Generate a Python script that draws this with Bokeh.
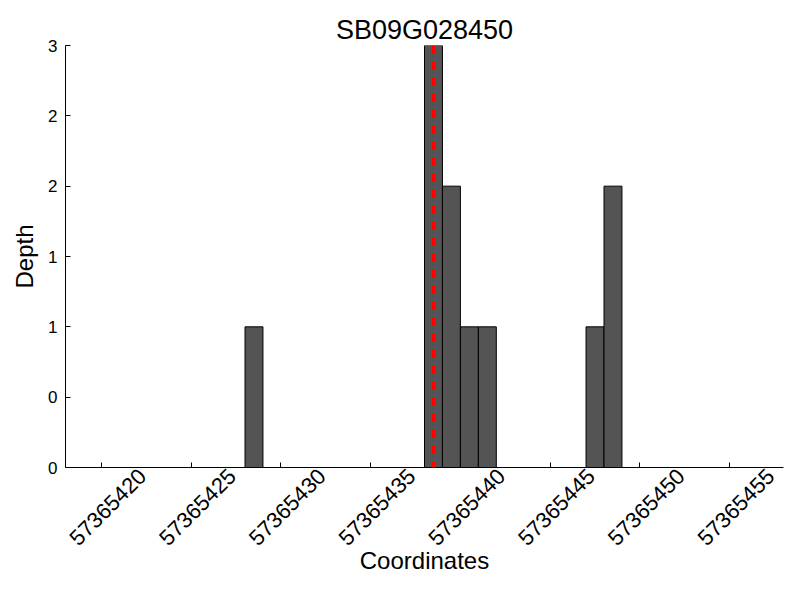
import math
from bokeh.plotting import figure
from bokeh.models import Range1d, FixedTicker, Span, ColumnDataSource
from bokeh.embed import file_html
from bokeh.resources import INLINE

title_text = "SB09G028450"
coords = [57365428, 57365438, 57365439, 57365440, 57365441, 57365447, 57365448]
depth = [1, 3, 2, 1, 1, 1, 2]
marker_pos = 57365438.5
x_ticks = [57365420, 57365425, 57365430, 57365435, 57365440, 57365445, 57365450, 57365455]
x_tick_labels = [str(t) for t in x_ticks]
y_ticks = [0, 0.5, 1, 1.5, 2, 2.5, 3]
y_tick_labels = ["0", "0", "1", "1", "2", "2", "3"]
x_min, x_max = 57365418, 57365458
y_min, y_max = 0, 3

FONT = "Liberation Sans"
W, H = 784, 584
BL, BR, BT, BB = 65, 1, 45, 117
FRAME_W = W - BL - BR
# Bokeh right-aligns rotated tick labels at the tick; shift them so they are centred.
LABEL_SHIFT_PX = 41
shift = LABEL_SHIFT_PX * (x_max - x_min) / FRAME_W
label_pos = [t + shift for t in x_ticks]

p = figure(width=W, height=H, output_backend="svg", toolbar_location=None,
           x_range=Range1d(x_min, x_max), y_range=Range1d(y_min, y_max),
           min_border_left=BL, min_border_right=BR, min_border_top=BT, min_border_bottom=BB)
p.title.text = title_text
p.title.text_font = FONT
p.title.text_font_size = "27px"
p.title.text_font_style = "normal"
p.title.text_color = "black"
p.title.align = "center"
p.title.standoff = 2
p.outline_line_color = None
p.xgrid.visible = False
p.ygrid.visible = False

src = ColumnDataSource(dict(left=coords, right=[c + 1 for c in coords],
                            top=depth, bottom=[0] * len(coords)))
p.quad(left="left", right="right", top="top", bottom="bottom", source=src,
       fill_color="#545454", line_color="black", line_width=1)

p.add_layout(Span(location=marker_pos, dimension="height", line_color="red",
                  line_width=3, line_dash="8 8"))

# y axis
ya = p.yaxis[0]
ya.ticker = FixedTicker(ticks=y_ticks)
ya.major_label_overrides = {t: l for t, l in zip(y_ticks, y_tick_labels)}
ya.major_tick_in = 5
ya.major_tick_out = 0
ya.minor_tick_line_color = None
ya.axis_line_color = "black"
ya.major_tick_line_color = "black"
ya.major_label_text_font = FONT
ya.major_label_text_font_size = "17px"
ya.major_label_text_color = "black"
ya.major_label_standoff = 8
ya.axis_label = "Depth"
ya.axis_label_text_font = FONT
ya.axis_label_text_font_size = "24px"
ya.axis_label_text_font_style = "normal"
ya.axis_label_text_color = "black"
ya.axis_label_standoff = 7

# x axis: visible tick marks at the true tick positions (drawn as minor ticks),
# labels attached to invisible major ticks so that they appear centred on the marks.
xa = p.xaxis[0]
xa.ticker = FixedTicker(ticks=label_pos, minor_ticks=x_ticks)
xa.major_label_overrides = {lp: l for lp, l in zip(label_pos, x_tick_labels)}
xa.major_tick_line_color = None
xa.major_tick_in = 0
xa.major_tick_out = 0
xa.minor_tick_in = 5
xa.minor_tick_out = 0
xa.minor_tick_line_color = "black"
xa.axis_line_color = "black"
xa.major_label_orientation = math.pi / 4
xa.major_label_text_font = FONT
xa.major_label_text_font_size = "22px"
xa.major_label_text_color = "black"
xa.major_label_standoff = 5
xa.axis_label = "Coordinates"
xa.axis_label_text_font = FONT
xa.axis_label_text_font_size = "24px"
xa.axis_label_text_font_style = "normal"
xa.axis_label_text_color = "black"
xa.axis_label_standoff = -8

open("out.html", "w").write(file_html(p, INLINE))
